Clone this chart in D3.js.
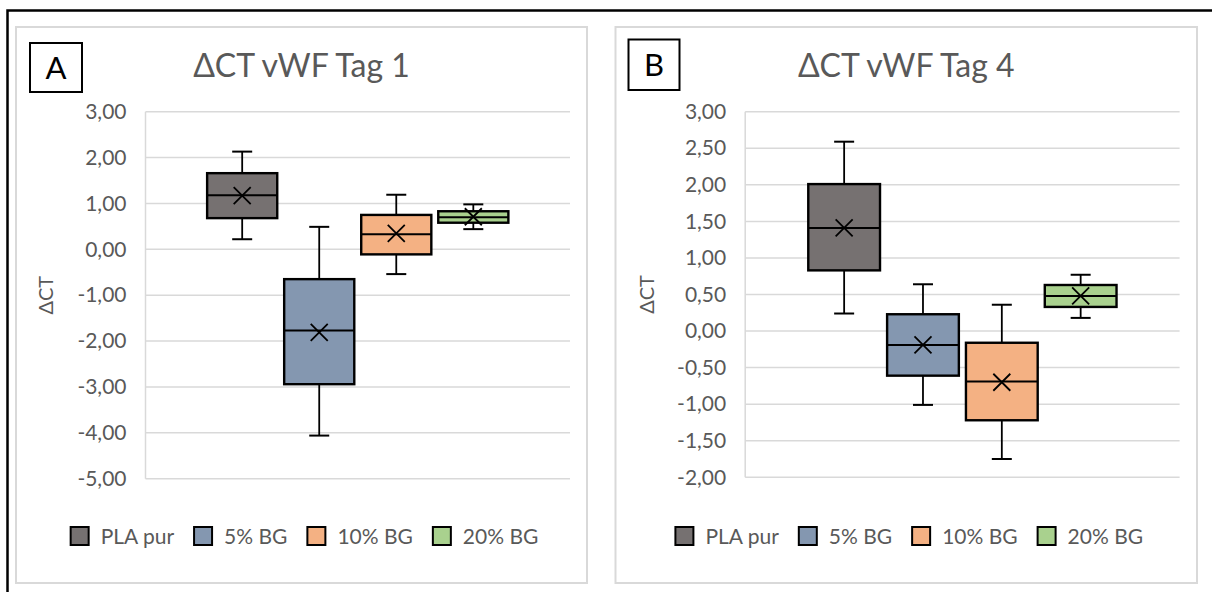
<!DOCTYPE html>
<html>
<head>
<meta charset="utf-8">
<script src="https://cdn.jsdelivr.net/npm/d3@7"></script>
<style>
  body { margin: 0; background: #fff; }
  svg { display: block; }
  text { font-family: Lato, "Open Sans", "DejaVu Sans", sans-serif; }
</style>
</head>
<body>
<svg id="chart" width="1212" height="592"></svg>
<script>
// Series shared by both panels
const groups = ["PLA pur", "5% BG", "10% BG", "20% BG"];
const groupColors = ["#767171", "#8497B0", "#F4B183", "#A9D18E"];

// ΔCT vWF, day 1 – five-number summary and mean per group
const tag1Min    = [0.22, -4.06, -0.54, 0.44];
const tag1Q1     = [0.68, -2.94, -0.11, 0.58];
const tag1Median = [1.18, -1.77,  0.33, 0.70];
const tag1Q3     = [1.66, -0.65,  0.75, 0.83];
const tag1Max    = [2.13,  0.49,  1.19, 0.98];
const tag1Mean   = [1.17, -1.81,  0.35, 0.71];
const tag1Ticks  = [3, 2, 1, 0, -1, -2, -3, -4, -5];

// ΔCT vWF, day 4
const tag4Min    = [0.24, -1.01, -1.75, 0.18];
const tag4Q1     = [0.83, -0.61, -1.22, 0.33];
const tag4Median = [1.41, -0.19, -0.69, 0.48];
const tag4Q3     = [2.01,  0.23, -0.16, 0.63];
const tag4Max    = [2.59,  0.64,  0.36, 0.77];
const tag4Mean   = [1.41, -0.19, -0.70, 0.48];
const tag4Ticks  = [3, 2.5, 2, 1.5, 1, 0.5, 0, -0.5, -1, -1.5, -2];

const deLocale = d3.formatLocale({ decimal: ",", thousands: ".", grouping: [3], currency: ["", " €"], minus: "-" });
const fmt = deLocale.format(".2f");

const svg = d3.select("#chart");
const TEXT = "#595959";
const GRID = "#d9d9d9";

// Outer frame (top and left edges)
svg.append("path")
  .attr("d", "M7.5,592 V10.5 H1212")
  .attr("fill", "none").attr("stroke", "#000").attr("stroke-width", 2.5);

function drawPanel(p) {
  const g = svg.append("g");

  // Chart area border
  g.append("rect")
    .attr("x", p.box.x).attr("y", p.box.y)
    .attr("width", p.box.w).attr("height", p.box.h)
    .attr("fill", "#fff").attr("stroke", GRID).attr("stroke-width", 2);

  // Panel letter
  g.append("rect")
    .attr("x", p.tag.x).attr("y", p.tag.y).attr("width", p.tag.w).attr("height", p.tag.h)
    .attr("fill", "#fff").attr("stroke", "#000").attr("stroke-width", 2);
  g.append("text")
    .attr("x", p.tag.x + p.tag.w / 2).attr("y", p.tag.y + p.tag.h / 2)
    .attr("dy", "0.36em").attr("text-anchor", "middle")
    .attr("font-size", 31).attr("fill", "#000").text(p.letter);

  // Title
  const cx = p.box.x + p.box.w / 2;
  g.append("text")
    .attr("x", cx).attr("y", 77).attr("text-anchor", "middle")
    .attr("font-size", 32).attr("fill", TEXT).text(p.title);

  const y = d3.scaleLinear().domain(p.domain).range([p.plot.b, p.plot.t]);
  const x = d3.scaleBand().domain(groups)
    .range([p.plot.l, p.plot.r]).paddingInner(0.09).paddingOuter(0.8);

  // Gridlines
  g.append("g").selectAll("line").data(p.ticks).join("line")
    .attr("x1", p.plot.l).attr("x2", p.plot.r)
    .attr("y1", d => y(d)).attr("y2", d => y(d))
    .attr("stroke", GRID).attr("stroke-width", 1.5);
  g.append("line")
    .attr("x1", p.plot.l).attr("x2", p.plot.l)
    .attr("y1", y(p.domain[1])).attr("y2", y(p.domain[0]))
    .attr("stroke", GRID).attr("stroke-width", 1.5);

  // Y axis labels
  const axis = d3.axisLeft(y).tickValues(p.ticks).tickFormat(fmt).tickSize(0).tickPadding(19);
  const ax = g.append("g").attr("transform", `translate(${p.plot.l},0)`).call(axis);
  ax.select(".domain").remove();
  ax.selectAll("text").attr("font-size", 21).attr("fill", TEXT)
    .style("font-family", 'Lato, "Open Sans", sans-serif');

  // Y axis title
  g.append("text")
    .attr("transform", `translate(${p.yTitleX},${(p.plot.t + p.plot.b) / 2}) rotate(-90)`)
    .attr("text-anchor", "middle").attr("dy", "0.36em")
    .attr("font-size", 20).attr("fill", TEXT).text("ΔCT");

  // Boxes
  const rows = groups.map((name, i) => ({
    name, color: groupColors[i],
    min: p.min[i], q1: p.q1[i], med: p.median[i], q3: p.q3[i], max: p.max[i], mean: p.mean[i]
  }));
  const bw = x.bandwidth();
  const cap = 20;
  const items = g.append("g").selectAll("g").data(rows).join("g")
    .attr("transform", d => `translate(${x(d.name) + bw / 2},0)`);

  items.append("line").attr("x1", 0).attr("x2", 0)
    .attr("y1", d => y(d.max)).attr("y2", d => y(d.q3))
    .attr("stroke", "#000").attr("stroke-width", 1.8);
  items.append("line").attr("x1", 0).attr("x2", 0)
    .attr("y1", d => y(d.q1)).attr("y2", d => y(d.min))
    .attr("stroke", "#000").attr("stroke-width", 1.8);
  items.append("line").attr("x1", -cap / 2).attr("x2", cap / 2)
    .attr("y1", d => y(d.max)).attr("y2", d => y(d.max))
    .attr("stroke", "#000").attr("stroke-width", 2);
  items.append("line").attr("x1", -cap / 2).attr("x2", cap / 2)
    .attr("y1", d => y(d.min)).attr("y2", d => y(d.min))
    .attr("stroke", "#000").attr("stroke-width", 2);
  items.append("rect")
    .attr("x", -bw / 2).attr("width", bw)
    .attr("y", d => y(d.q3)).attr("height", d => y(d.q1) - y(d.q3))
    .attr("fill", d => d.color).attr("stroke", "#000").attr("stroke-width", 2.4);
  items.append("line").attr("x1", -bw / 2).attr("x2", bw / 2)
    .attr("y1", d => y(d.med)).attr("y2", d => y(d.med))
    .attr("stroke", "#000").attr("stroke-width", 2);
  // Mean marker
  const m = 8.5;
  items.append("path")
    .attr("d", d => `M${-m},${y(d.mean) - m} L${m},${y(d.mean) + m} M${m},${y(d.mean) - m} L${-m},${y(d.mean) + m}`)
    .attr("stroke", "#000").attr("stroke-width", 1.8).attr("fill", "none");

  // Legend, centred under the chart area
  const leg = g.append("g");
  const sw = 18, gapText = 12, gapItem = 20;
  let pos = 0;
  groups.forEach((name, i) => {
    const it = leg.append("g").attr("transform", `translate(${pos},0)`);
    it.append("rect").attr("x", 0).attr("y", -sw / 2).attr("width", sw).attr("height", sw)
      .attr("fill", groupColors[i]).attr("stroke", "#000").attr("stroke-width", 2);
    const t = it.append("text").attr("x", sw + gapText).attr("y", 0).attr("dy", "0.36em")
      .attr("font-size", 21).attr("fill", TEXT).text(name);
    pos += sw + gapText + t.node().getComputedTextLength() + gapItem;
  });
  const legW = pos - gapItem;
  leg.attr("transform", `translate(${cx + 3 - legW / 2},${p.legendY})`);
}

drawPanel({
  letter: "A", title: "ΔCT vWF Tag 1",
  box: { x: 16, y: 27, w: 571, h: 556 },
  tag: { x: 30, y: 43, w: 52, h: 49 },
  plot: { l: 145.5, r: 570, t: 111.7, b: 478.7 },
  domain: [-5, 3], ticks: tag1Ticks, yTitleX: 46, legendY: 536,
  min: tag1Min, q1: tag1Q1, median: tag1Median, q3: tag1Q3, max: tag1Max, mean: tag1Mean
});

drawPanel({
  letter: "B", title: "ΔCT vWF Tag 4",
  box: { x: 615.5, y: 27, w: 581.5, h: 556 },
  tag: { x: 628.5, y: 39.5, w: 51, h: 50.5 },
  plot: { l: 745.2, r: 1179.6, t: 111.7, b: 477.3 },
  domain: [-2, 3], ticks: tag4Ticks, yTitleX: 647, legendY: 536,
  min: tag4Min, q1: tag4Q1, median: tag4Median, q3: tag4Q3, max: tag4Max, mean: tag4Mean
});
</script>
</body>
</html>
